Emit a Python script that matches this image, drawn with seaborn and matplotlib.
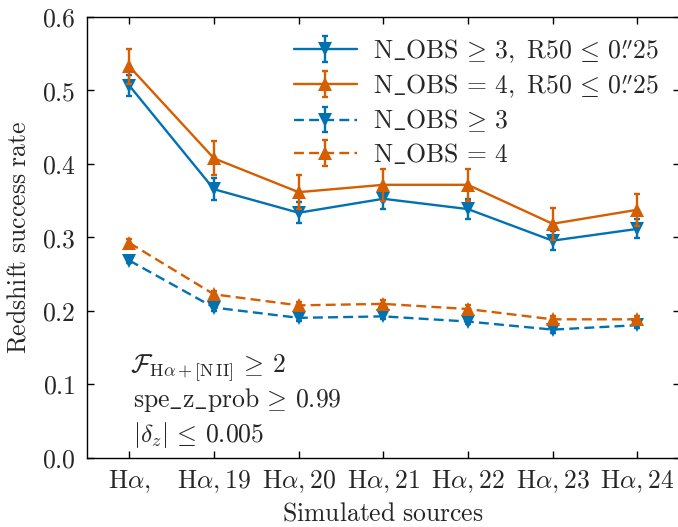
import numpy as np
import pandas as pd
import matplotlib
matplotlib.use("Agg")
import matplotlib.pyplot as plt
import seaborn as sns
from matplotlib.legend_handler import HandlerTuple

categories = [r"$\mathrm{H}\alpha,$", r"$\mathrm{H}\alpha, 19$", r"$\mathrm{H}\alpha, 20$",
              r"$\mathrm{H}\alpha, 21$", r"$\mathrm{H}\alpha, 22$", r"$\mathrm{H}\alpha, 23$",
              r"$\mathrm{H}\alpha, 24$"]
blue_r50 = [0.506, 0.365, 0.333, 0.352, 0.338, 0.295, 0.311]
blue_r50_err = [0.014, 0.015, 0.014, 0.014, 0.014, 0.013, 0.013]
orange_r50 = [0.532, 0.407, 0.361, 0.371, 0.371, 0.318, 0.337]
orange_r50_err = [0.024, 0.023, 0.023, 0.022, 0.022, 0.022, 0.022]
blue_all = [0.268, 0.204, 0.190, 0.192, 0.185, 0.174, 0.180]
blue_all_err = [0.004, 0.004, 0.004, 0.004, 0.004, 0.004, 0.004]
orange_all = [0.292, 0.222, 0.207, 0.209, 0.202, 0.188, 0.188]
orange_all_err = [0.005, 0.005, 0.005, 0.005, 0.005, 0.005, 0.005]

labels = [r"$\mathrm{N\_OBS}\,\geq\,3,\ \mathrm{R50}\,\leq\,0\overset{\prime\prime}{.}25$",
          r"$\mathrm{N\_OBS}\,=\,4,\ \mathrm{R50}\,\leq\,0\overset{\prime\prime}{.}25$",
          r"$\mathrm{N\_OBS}\,\geq\,3$",
          r"$\mathrm{N\_OBS}\,=\,4$"]

sns.set_theme(style="ticks")
plt.rcParams["mathtext.fontset"] = "cm"
plt.rcParams["font.family"] = ["DejaVu Serif"]

BLUE = "#0072B2"
ORANGE = "#D55E00"
FS = 18.5

fig = plt.figure(figsize=(6.78, 5.27), dpi=100)
ax = fig.add_axes([87 / 678, (527 - 457.5) / 527, (679.5 - 87) / 678, (457.5 - 16.5) / 527])

xs = np.arange(len(categories))
series = [
    (blue_r50, blue_r50_err, BLUE, "v", "-"),
    (orange_r50, orange_r50_err, ORANGE, "^", "-"),
    (blue_all, blue_all_err, BLUE, "v", "--"),
    (orange_all, orange_all_err, ORANGE, "^", "--"),
]
handles = []
for (vals, errs, col, mk, ls), lab in zip(series, labels):
    df = pd.DataFrame({"x": xs, "y": vals})
    sns.lineplot(data=df, x="x", y="y", ax=ax, color=col, marker=mk, markersize=10.5,
                 markeredgewidth=0, linewidth=1.7, linestyle=ls, legend=False)
    line = ax.lines[-1]
    if ls == "--":
        line.set_dashes((4.2, 2.2))
    eb = ax.errorbar(xs, vals, yerr=errs, fmt="none", ecolor=col, elinewidth=1.7,
                     capsize=2.3, capthick=1.7)
    handles.append((line, eb))

ax.legend(handles, labels, handler_map={tuple: HandlerTuple(ndivide=1)},
          loc="upper right", bbox_to_anchor=(1.0, 1.0), frameon=False, fontsize=FS,
          handlelength=2.45, handletextpad=0.65, labelspacing=0.3, borderaxespad=0.4)

ax.set_xlim(-0.5, 6.5)
ax.set_ylim(0.0, 0.6)
ax.set_xticks(xs)
ax.set_xticklabels(categories, fontsize=FS)
ax.set_yticks(np.arange(0, 0.61, 0.1))
ax.set_yticklabels([rf"${v:.1f}$" for v in np.arange(0, 0.61, 0.1)], fontsize=FS)
ax.tick_params(direction="in", top=True, right=True, length=5, width=1, color="black", pad=8)
for s in ax.spines.values():
    s.set_visible(True)
    s.set_color("black")
    s.set_linewidth(1)

ax.set_xlabel(r"$\mathrm{Simulated\ sources}$", fontsize=FS, labelpad=4)
ax.set_ylabel(r"$\mathrm{Redshift\ success\ rate}$", fontsize=FS, labelpad=8)

ax.text(0.072, 0.192, r"$\mathcal{F}_{\mathrm{H}\alpha+[\mathrm{N\,II}]}\,\geq\,2$",
        transform=ax.transAxes, fontsize=FS, va="baseline")
ax.text(0.078, 0.115, r"$\mathrm{spe\_z\_prob}\,\geq\,0.99$",
        transform=ax.transAxes, fontsize=FS, va="baseline")
ax.text(0.078, 0.035, r"$|\delta_z|\,\leq\,0.005$",
        transform=ax.transAxes, fontsize=FS, va="baseline")

fig.savefig("out.png", dpi=100)
